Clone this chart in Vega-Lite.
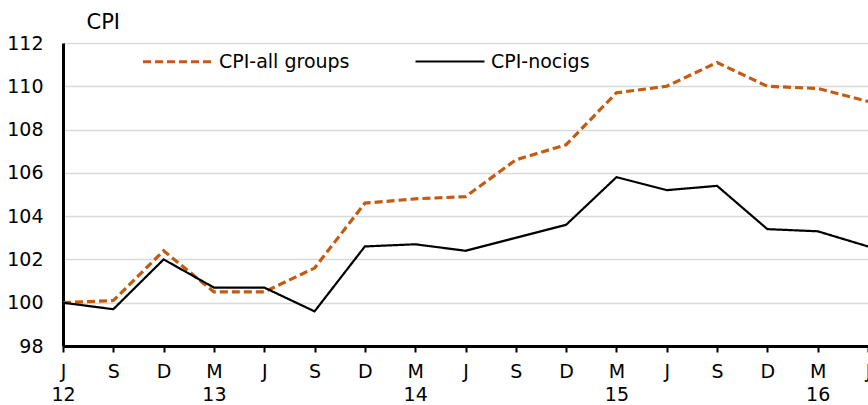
{
  "$schema": "https://vega.github.io/schema/vega-lite/v6.json",
  "autosize": {"type": "none"},
  "padding": {"left": 63, "top": 43, "right": 0, "bottom": 59},
  "width": 805,
  "height": 303,
  "background": "white",
  "config": {
    "font": "DejaVu Sans",
    "view": {"stroke": null}
  },
  "data": {
    "values": [
      {"i": 0, "series": "CPI-all groups", "v": 100.0},
      {"i": 1, "series": "CPI-all groups", "v": 100.1},
      {"i": 2, "series": "CPI-all groups", "v": 102.4},
      {"i": 3, "series": "CPI-all groups", "v": 100.5},
      {"i": 4, "series": "CPI-all groups", "v": 100.5},
      {"i": 5, "series": "CPI-all groups", "v": 101.6},
      {"i": 6, "series": "CPI-all groups", "v": 104.6},
      {"i": 7, "series": "CPI-all groups", "v": 104.8},
      {"i": 8, "series": "CPI-all groups", "v": 104.9},
      {"i": 9, "series": "CPI-all groups", "v": 106.6},
      {"i": 10, "series": "CPI-all groups", "v": 107.3},
      {"i": 11, "series": "CPI-all groups", "v": 109.7},
      {"i": 12, "series": "CPI-all groups", "v": 110.0},
      {"i": 13, "series": "CPI-all groups", "v": 111.1},
      {"i": 14, "series": "CPI-all groups", "v": 110.0},
      {"i": 15, "series": "CPI-all groups", "v": 109.9},
      {"i": 16, "series": "CPI-all groups", "v": 109.3},
      {"i": 0, "series": "CPI-nocigs", "v": 100.0},
      {"i": 1, "series": "CPI-nocigs", "v": 99.7},
      {"i": 2, "series": "CPI-nocigs", "v": 102.0},
      {"i": 3, "series": "CPI-nocigs", "v": 100.7},
      {"i": 4, "series": "CPI-nocigs", "v": 100.7},
      {"i": 5, "series": "CPI-nocigs", "v": 99.6},
      {"i": 6, "series": "CPI-nocigs", "v": 102.6},
      {"i": 7, "series": "CPI-nocigs", "v": 102.7},
      {"i": 8, "series": "CPI-nocigs", "v": 102.4},
      {"i": 9, "series": "CPI-nocigs", "v": 103.0},
      {"i": 10, "series": "CPI-nocigs", "v": 103.6},
      {"i": 11, "series": "CPI-nocigs", "v": 105.8},
      {"i": 12, "series": "CPI-nocigs", "v": 105.2},
      {"i": 13, "series": "CPI-nocigs", "v": 105.4},
      {"i": 14, "series": "CPI-nocigs", "v": 103.4},
      {"i": 15, "series": "CPI-nocigs", "v": 103.3},
      {"i": 16, "series": "CPI-nocigs", "v": 102.6}
    ]
  },
  "mark": {"type": "line", "clip": true},
  "encoding": {
    "x": {
      "field": "i",
      "type": "quantitative",
      "scale": {"domain": [0, 16], "nice": false, "zero": false},
      "axis": {
        "title": null,
        "values": [0,1,2,3,4,5,6,7,8,9,10,11,12,13,14,15,16],
        "labelExpr": "[['J','S','D','M'][datum.value % 4], datum.value == 0 ? '12' : (datum.value % 4 == 3 ? '' + (13 + (datum.value - 3) / 4) : '')]",
        "grid": false,
        "domainColor": "#000000",
        "domainWidth": 3,
        "tickColor": "#000000",
        "tickWidth": 2,
        "tickSize": 6,
        "labelPadding": 10,
        "labelFontSize": 19,
        "labelColor": "#000000",
        "labelLineHeight": 23,
        "labelBaseline": "top",
        "labelFlush": false,
        "labelOverlap": false
      }
    },
    "y": {
      "field": "v",
      "type": "quantitative",
      "scale": {"domain": [98, 112], "nice": false, "zero": false},
      "axis": {
        "title": "CPI",
        "titleAngle": 0,
        "titleAlign": "left",
        "titleBaseline": "alphabetic",
        "titleX": 23,
        "titleY": -15,
        "titleFontSize": 21,
        "titleFontWeight": "normal",
        "titleColor": "#000000",
        "values": [98, 100, 102, 104, 106, 108, 110, 112],
        "ticks": false,
        "tickSize": 0,
        "labelPadding": 20,
        "labelFontSize": 19,
        "labelColor": "#000000",
        "domainColor": "#000000",
        "domainWidth": 3,
        "gridColor": "#d9d9d9",
        "gridWidth": 1.3
      }
    },
    "color": {
      "field": "series",
      "type": "nominal",
      "scale": {"domain": ["CPI-all groups", "CPI-nocigs"], "range": ["#C55A11", "#000000"]},
      "legend": {
        "title": null,
        "orient": "none",
        "legendX": 78,
        "legendY": -18,
        "direction": "horizontal",
        "symbolType": "stroke",
        "symbolSize": 4761,
        "labelFontSize": 19,
        "labelColor": "#000000",
        "labelOffset": 5,
        "columnPadding": 61,
        "labelLimit": 300
      }
    },
    "strokeDash": {
      "field": "series",
      "type": "nominal",
      "scale": {"domain": ["CPI-all groups", "CPI-nocigs"], "range": [[8, 4], [1, 0]]},
      "legend": null
    },
    "strokeWidth": {
      "field": "series",
      "type": "nominal",
      "scale": {"domain": ["CPI-all groups", "CPI-nocigs"], "range": [3.2, 2.2]},
      "legend": null
    }
  }
}
